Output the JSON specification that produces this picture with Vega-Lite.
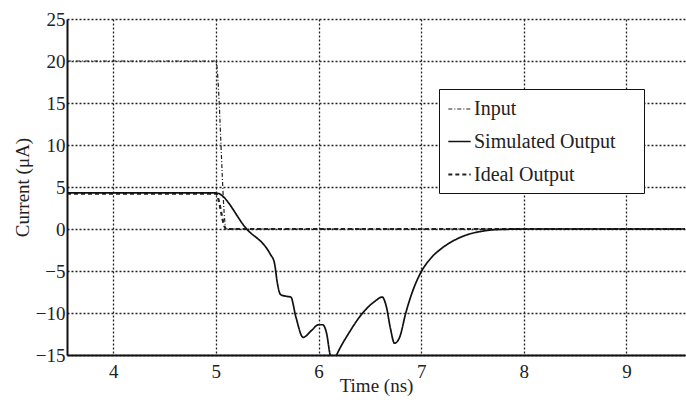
{
  "$schema": "https://vega.github.io/schema/vega-lite/v6.json",
  "width": 618,
  "height": 336,
  "autosize": {"type": "none"},
  "padding": {"left": 67, "top": 19, "right": 1, "bottom": 47},
  "background": "white",
  "config": {
    "view": {"stroke": null},
    "font": "Liberation Serif",
    "axis": {
      "labelFont": "Liberation Serif",
      "titleFont": "Liberation Serif",
      "labelFontSize": 19,
      "titleFontSize": 19,
      "titleFontWeight": "normal",
      "labelColor": "#222",
      "titleColor": "#222",
      "domainColor": "#111",
      "domainWidth": 2,
      "gridColor": "#222",
      "gridDash": [2, 2],
      "gridWidth": 1.3,
      "gridOpacity": 1,
      "ticks": false
    }
  },
  "data": {
    "values": [
      {"t": 3.55, "v": 20, "s": "Input"},
      {"t": 5.0, "v": 20, "s": "Input"},
      {"t": 5.1, "v": 0, "s": "Input"},
      {"t": 9.57, "v": 0, "s": "Input"},
      {"t": 3.55, "v": 4.2, "s": "Ideal Output"},
      {"t": 5.0, "v": 4.2, "s": "Ideal Output"},
      {"t": 5.1, "v": 0, "s": "Ideal Output"},
      {"t": 9.57, "v": 0, "s": "Ideal Output"},
      {"t": 3.55, "v": 4.3, "s": "Simulated Output"},
      {"t": 5.0, "v": 4.3, "s": "Simulated Output"},
      {"t": 5.3, "v": 0, "s": "Simulated Output"},
      {"t": 5.53, "v": -3.0, "s": "Simulated Output"},
      {"t": 5.57, "v": -4.0, "s": "Simulated Output"},
      {"t": 5.6, "v": -6.5, "s": "Simulated Output"},
      {"t": 5.63, "v": -7.8, "s": "Simulated Output"},
      {"t": 5.68, "v": -8.0, "s": "Simulated Output"},
      {"t": 5.73, "v": -8.1, "s": "Simulated Output"},
      {"t": 5.78, "v": -10.5, "s": "Simulated Output"},
      {"t": 5.85, "v": -12.9, "s": "Simulated Output"},
      {"t": 5.93, "v": -12.1, "s": "Simulated Output"},
      {"t": 6.0, "v": -11.4, "s": "Simulated Output"},
      {"t": 6.04, "v": -11.4, "s": "Simulated Output"},
      {"t": 6.08, "v": -12.5, "s": "Simulated Output"},
      {"t": 6.11, "v": -14.8, "s": "Simulated Output"},
      {"t": 6.14, "v": -16.0, "s": "Simulated Output"},
      {"t": 6.18, "v": -14.9, "s": "Simulated Output"},
      {"t": 6.3, "v": -12.3, "s": "Simulated Output"},
      {"t": 6.43, "v": -10.0, "s": "Simulated Output"},
      {"t": 6.55, "v": -8.6, "s": "Simulated Output"},
      {"t": 6.62, "v": -8.1, "s": "Simulated Output"},
      {"t": 6.66, "v": -9.2, "s": "Simulated Output"},
      {"t": 6.7, "v": -11.8, "s": "Simulated Output"},
      {"t": 6.74, "v": -13.6, "s": "Simulated Output"},
      {"t": 6.79, "v": -12.9, "s": "Simulated Output"},
      {"t": 6.85, "v": -10.0, "s": "Simulated Output"},
      {"t": 6.92, "v": -7.3, "s": "Simulated Output"},
      {"t": 7.0, "v": -5.1, "s": "Simulated Output"},
      {"t": 7.1, "v": -3.4, "s": "Simulated Output"},
      {"t": 7.2, "v": -2.3, "s": "Simulated Output"},
      {"t": 7.3, "v": -1.5, "s": "Simulated Output"},
      {"t": 7.4, "v": -0.9, "s": "Simulated Output"},
      {"t": 7.5, "v": -0.5, "s": "Simulated Output"},
      {"t": 7.6, "v": -0.25, "s": "Simulated Output"},
      {"t": 7.7, "v": -0.1, "s": "Simulated Output"},
      {"t": 7.85, "v": -0.03, "s": "Simulated Output"},
      {"t": 8.0, "v": 0, "s": "Simulated Output"},
      {"t": 9.57, "v": 0, "s": "Simulated Output"}
    ]
  },
  "mark": {"type": "line", "clip": true, "interpolate": "monotone"},
  "encoding": {
    "x": {
      "field": "t",
      "type": "quantitative",
      "scale": {"domain": [3.55, 9.57], "nice": false, "zero": false},
      "axis": {"values": [4, 5, 6, 7, 8, 9], "title": "Time (ns)", "labelPadding": 7, "titleY": 30, "titleBaseline": "middle"}
    },
    "y": {
      "field": "v",
      "type": "quantitative",
      "scale": {"domain": [-15, 25], "nice": false},
      "axis": {"values": [-15, -10, -5, 0, 5, 10, 15, 20, 25], "title": "Current (μA)", "labelPadding": 2, "titleX": -45, "titleY": 168, "titleBaseline": "middle"}
    },
    "color": {
      "field": "s",
      "type": "nominal",
      "scale": {"domain": ["Input", "Simulated Output", "Ideal Output"], "range": ["#222", "#111", "#222"]},
      "legend": {
        "title": null,
        "orient": "none",
        "legendX": 372,
        "legendY": 70,
        "strokeColor": "#111",
        "fillColor": "white",
        "padding": 8,
        "labelFont": "Liberation Serif",
        "labelFontSize": 20,
        "labelColor": "#222",
        "labelOffset": 2,
        "labelLimit": 300,
        "symbolType": "stroke",
        "symbolSize": 500,
        "rowPadding": 10,
        "labelExpr": "datum.label + '\u2003\u200b'"
      }
    },
    "strokeDash": {
      "field": "s",
      "type": "nominal",
      "scale": {"domain": ["Input", "Simulated Output", "Ideal Output"], "range": [[4, 2, 1, 2], [1, 0], [4, 3]]},
      "legend": null
    },
    "strokeWidth": {
      "field": "s",
      "type": "nominal",
      "scale": {"domain": ["Input", "Simulated Output", "Ideal Output"], "range": [1.2, 2.2, 1.4]},
      "legend": null
    }
  }
}
